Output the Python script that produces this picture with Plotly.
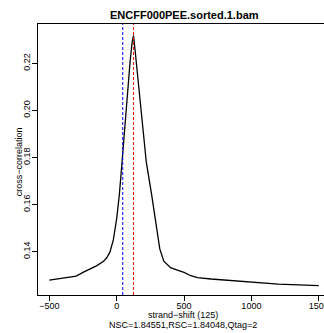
import plotly.graph_objects as go

# ---- data ----
shift = [-500, -450, -400, -350, -300, -250, -200, -150, -100, -75, -50, -25, 0, 20, 40, 60,
         80, 100, 115, 125, 135, 150, 170, 190, 220, 260, 300, 320, 350, 400, 450, 475, 500,
         550, 600, 700, 800, 900, 1000, 1100, 1200, 1300, 1400, 1500]
corr = [0.1279, 0.1283, 0.1287, 0.1290, 0.1296, 0.1312, 0.1326, 0.1340, 0.1358, 0.1373,
        0.1398, 0.1450, 0.1540, 0.1643, 0.1782, 0.1930, 0.2095, 0.2210, 0.2290, 0.2318,
        0.2265, 0.2180, 0.2040, 0.1940, 0.1780, 0.1640, 0.1480, 0.1412, 0.1360, 0.1332,
        0.1322, 0.1318, 0.1312, 0.1298, 0.1290, 0.1284, 0.1279, 0.1274, 0.1269, 0.1266,
        0.1262, 0.1260, 0.1258, 0.1256]
peak_shift = 125
phantom_shift = 45
x_ticks = [-500, 0, 500, 1000, 1500]
x_tick_labels = ["\u2212500", "0", "500", "1000", "1500"]
y_ticks = [0.14, 0.16, 0.18, 0.20, 0.22]
y_tick_labels = ["0.14", "0.16", "0.18", "0.20", "0.22"]
title_text = "ENCFF000PEE.sorted.1.bam"
x_label = "strand\u2212shift (125)"
sub_label = "NSC=1.84551,RSC=1.84048,Qtag=2"
y_label = "cross\u2212correlation"

FONT = "Liberation Sans, Arial, sans-serif"

fig = go.Figure()
fig.add_trace(go.Scatter(x=shift, y=corr, mode="lines",
                         line=dict(color="black", width=1.3), hoverinfo="skip",
                         showlegend=False))

fig.add_vline(x=phantom_shift, line=dict(color="#0000FF", width=1, dash="3px,2px"))
fig.add_vline(x=peak_shift, line=dict(color="#FF0000", width=1, dash="3px,2px"))

fig.update_layout(
    width=324, height=333,
    margin=dict(l=38, r=0, t=24, b=38, autoexpand=False),
    paper_bgcolor="white", plot_bgcolor="white",
    font=dict(family=FONT, size=9, color="black"),
    showlegend=False,
    xaxis=dict(range=[-584, 1539], showgrid=False, zeroline=False, automargin=False,
               showline=True, linecolor="black", linewidth=1, mirror=True,
               ticks="outside", ticklen=5, tickcolor="black",
               tickvals=x_ticks, ticktext=x_tick_labels,
               tickfont=dict(family=FONT, size=9, color="black"),
               ticklabeloverflow="allow", ticklabelstandoff=-3),
    yaxis=dict(range=[0.12161, 0.23669], showgrid=False, zeroline=False, automargin=False,
               showline=True, linecolor="black", linewidth=1,
               ticks="outside", ticklen=5, tickcolor="black",
               tickvals=y_ticks, ticktext=y_tick_labels, tickangle=-90,
               tickfont=dict(family=FONT, size=9, color="black"),
               ticklabelstandoff=-2),
    annotations=[
        dict(text="<b>" + title_text + "</b>", xref="x", yref="paper", x=500, y=1,
             yshift=9, xanchor="center", yanchor="middle", showarrow=False,
             font=dict(family=FONT, size=11, color="black")),
        dict(text=x_label, xref="x", yref="paper", x=490, y=0, yshift=-20,
             xanchor="center", yanchor="middle", showarrow=False,
             font=dict(family=FONT, size=9, color="black")),
        dict(text=sub_label, xref="x", yref="paper", x=490, y=0, yshift=-30,
             xanchor="center", yanchor="middle", showarrow=False,
             font=dict(family=FONT, size=9, color="black")),
        dict(text=y_label, xref="paper", yref="paper", x=0, y=0.49, xshift=-19,
             xanchor="center", yanchor="middle", textangle=-90, showarrow=False,
             font=dict(family=FONT, size=9, color="black")),
    ],
)

post = (
    "document.documentElement.style.overflow='hidden';"
    "document.body.style.margin='0';"
    "document.body.style.overflow='hidden';"
)
fig.write_html("out.html", config={"displayModeBar": False}, post_script=post)
